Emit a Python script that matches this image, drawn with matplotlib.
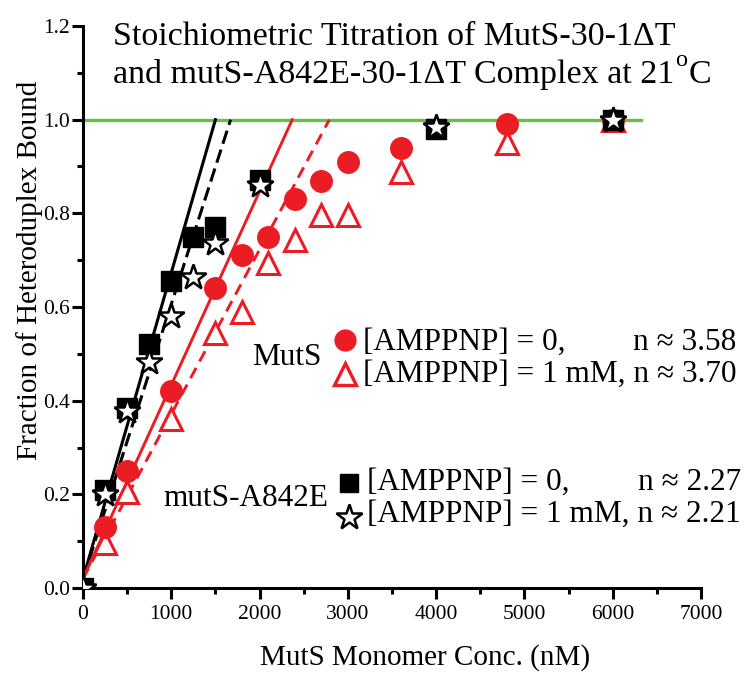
import numpy as np
import matplotlib
matplotlib.use("Agg")
import matplotlib.pyplot as plt

plt.rcParams['font.family'] = ['Liberation Serif', 'DejaVu Serif']

# data
conc_wt = [250, 500, 1000, 1500, 1800, 2100, 2400, 2700, 3000, 3600, 4800, 6000]
wt_0 = [0.13, 0.25, 0.42, 0.64, 0.71, 0.75, 0.83, 0.87, 0.91, 0.94, 0.99, 1.0]
wt_1mM = [0.096, 0.205, 0.36, 0.545, 0.59, 0.694, 0.744, 0.797, 0.797, 0.889, 0.95, 1.0]

conc_mut = [0, 250, 500, 750, 1000, 1250, 1500, 2000, 4000, 6000]
mut_0 = [0.0, 0.21, 0.385, 0.52, 0.655, 0.75, 0.77, 0.872, 0.98, 1.0]
mut_1mM = [0.0, 0.2, 0.378, 0.483, 0.58, 0.665, 0.737, 0.86, 0.985, 1.0]

# linear fits: start at x=0, end where they reach full binding
fit_y0 = 0.02
fit_xend_mut_0 = 1500
fit_xend_mut_1mM = 1672
fit_xend_wt_0 = 2370
fit_xend_wt_1mM = 2790
plateau_end = 6320

red = '#ec1c24'
green = '#6cbd45'

fig = plt.figure(figsize=(7.5, 6.78), dpi=100)
W, H = 750.0, 678.0
ax = fig.add_axes([83 / W, 1 - 588 / H, (701 - 83) / W, (588 - 26) / H])

ax.plot([0, plateau_end], [1.0, 1.0], color=green, lw=2.4, zorder=1)

ax.plot([0, fit_xend_mut_0], [fit_y0, 1.0], color='black', lw=2.2, zorder=2)
ax.plot([0, fit_xend_mut_1mM], [fit_y0, 1.0], color='black', lw=2.2, ls=(0, (4.5, 2)), zorder=2)
ax.plot([0, fit_xend_wt_0], [fit_y0, 1.0], color=red, lw=2.1, zorder=2)
ax.plot([0, fit_xend_wt_1mM], [fit_y0, 1.0], color=red, lw=2.1, ls=(0, (4, 2.5)), zorder=2)

ax.plot(conc_wt, wt_1mM, ls='none', marker='^', ms=16, mfc='white', mec=red, mew=2.2, zorder=3)
ax.plot(conc_wt, wt_0, ls='none', marker='o', ms=15.5, mfc=red, mec=red, zorder=4)
ax.plot(conc_mut, mut_0, ls='none', marker='s', ms=14, mfc='black', mec='black', zorder=5)
ax.plot(conc_mut, mut_1mM, ls='none', marker='*', ms=19, mfc='white', mec='black', mew=1.8, zorder=6)

ax.set_xlim(0, 7000)
ax.set_ylim(0, 1.2)
ax.set_xticks(np.arange(0, 7001, 1000))
ax.set_xticks(np.arange(500, 7000, 1000), minor=True)
ax.set_yticks(np.arange(0, 1.21, 0.2))
ax.set_yticks(np.arange(0.1, 1.2, 0.2), minor=True)
ax.set_yticklabels(['%.1f' % v for v in np.arange(0, 1.21, 0.2)])

for s in ['top', 'right']:
    ax.spines[s].set_visible(False)
for s in ['left', 'bottom']:
    ax.spines[s].set_linewidth(2.2)

ax.tick_params(which='major', direction='out', length=8, width=2.2, labelsize=15.5)
ax.tick_params(which='minor', direction='out', length=4.5, width=2.2)
ax.tick_params(axis='y', pad=1.5)
ax.tick_params(axis='x', pad=4)

ax.set_xlabel('MutS Monomer Conc. (nM)', fontsize=21)
ax.xaxis.label.set_va('baseline')
ax.xaxis.set_label_coords((425 - 83) / 618.0, (588 - 665) / 562.0)
ax.set_ylabel('Fraction of Heteroduplex Bound', fontsize=21)
ax.yaxis.set_label_coords((43 - 83) / 618.0, (588 - 270) / 562.0)


def fx(px):
    return px / W


def fy(py):
    return 1 - py / H


renderer = fig.canvas.get_renderer()

title_size = 24.5
fig.text(fx(113), fy(45), 'Stoichiometric Titration of MutS-30-1\u0394T', fontsize=title_size, va='baseline')
t2 = fig.text(fx(113), fy(83), 'and mutS-A842E-30-1\u0394T Complex at 21', fontsize=title_size, va='baseline')
x_end = t2.get_window_extent(renderer).x1
deg = fig.text((x_end + 1) / W, fy(66), 'o', fontsize=17.5, va='baseline')
x_end = deg.get_window_extent(renderer).x1
fig.text((x_end + 1) / W, fy(83), 'C', fontsize=title_size, va='baseline')

leg_size = 22.5


def legend_pair(x, y0, y1, n0, n1):
    # second line is one string; the first line's "n" is right-aligned with it
    fig.text(fx(x), fy(y0), '[AMPPNP] = 0,', fontsize=leg_size, va='baseline')
    line2 = fig.text(fx(x), fy(y1), '[AMPPNP] = 1 mM, n \u2248 ' + n1, fontsize=leg_size, va='baseline')
    right = line2.get_window_extent(renderer).x1
    fig.text(right / W, fy(y0), 'n \u2248 ' + n0, fontsize=leg_size, ha='right', va='baseline')


fig.text(fx(322), fy(365), 'MutS', fontsize=leg_size, ha='right', va='baseline')
legend_pair(363, 350, 382, '3.58', '3.70')
fig.text(fx(328), fy(506), 'mutS-A842E', fontsize=leg_size, ha='right', va='baseline')
legend_pair(367, 490, 522, '2.27', '2.21')

# legend symbols
fig.lines.append(plt.Line2D([fx(345)], [fy(340)], transform=fig.transFigure, marker='o', ms=15,
                            mfc=red, mec=red, ls='none'))
fig.lines.append(plt.Line2D([fx(345)], [fy(374)], transform=fig.transFigure, marker='^', ms=16,
                            mfc='white', mec=red, mew=2.4, ls='none'))
fig.lines.append(plt.Line2D([fx(349)], [fy(483)], transform=fig.transFigure, marker='s', ms=13,
                            mfc='black', mec='black', ls='none'))
fig.lines.append(plt.Line2D([fx(349)], [fy(517)], transform=fig.transFigure, marker='*', ms=19,
                            mfc='white', mec='black', mew=1.8, ls='none'))

fig.savefig('out.png', dpi=100)
